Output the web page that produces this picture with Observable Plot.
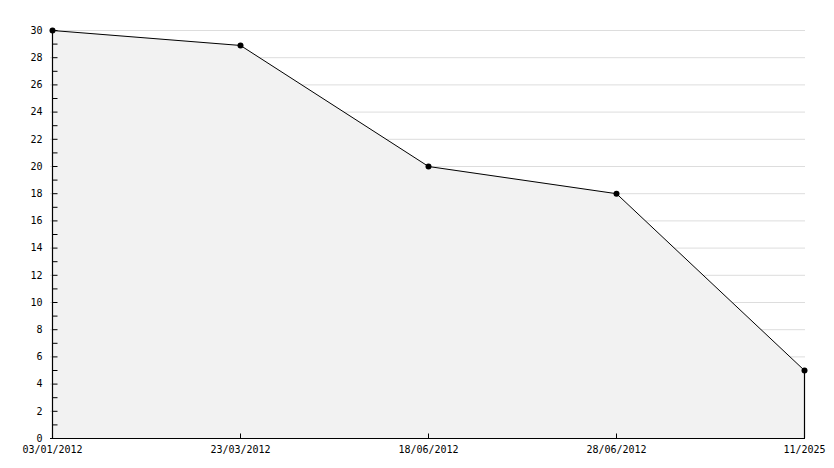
<!DOCTYPE html>
<html>
<head>
<meta charset="utf-8">
<script src="https://cdn.jsdelivr.net/npm/d3@7"></script>
<script src="https://cdn.jsdelivr.net/npm/@observablehq/plot@0.6"></script>
<style>
  html, body { margin: 0; padding: 0; background: #fff; }
  #chart svg { display: block; }
</style>
</head>
<body>
<div id="chart"></div>
<script>
const dates = ["03/01/2012", "23/03/2012", "18/06/2012", "28/06/2012", "11/2025"];
const values = [30, 28.9, 20, 18, 5];
const yMajorTicks = d3.range(0, 31, 2);
const yAllTicks = d3.range(0, 31, 1);

const data = dates.map((d, i) => ({date: d, value: values[i]}));
const first = dates[0];
const last = data[data.length - 1];

const tickRight = {draw(context) { context.moveTo(0, 0); context.lineTo(5, 0); }};
const tickUp = {draw(context) { context.moveTo(0, 0); context.lineTo(0, -5); }};

const chart = Plot.plot({
  width: 834,
  height: 468,
  marginLeft: 50,
  marginRight: 29,
  marginTop: 30,
  marginBottom: 30,
  style: {fontFamily: "DejaVu Sans Mono", fontSize: "10px", color: "#000", background: "#fff"},
  x: {type: "point", domain: dates, padding: 0, label: null},
  y: {domain: [0, 30], label: null},
  marks: [
    Plot.ruleY(yMajorTicks.filter(d => d > 0), {stroke: "#dddddd", strokeOpacity: 1}),
    Plot.areaY(data, {x: "date", y: "value", fill: "#f2f2f2"}),
    Plot.line(data, {x: "date", y: "value", stroke: "#000", strokeWidth: 1}),
    Plot.ruleX([last], {x: "date", y1: 0, y2: "value", stroke: "#000", strokeWidth: 1.2}),
    Plot.ruleX([first], {x: d => d, stroke: "#000", strokeWidth: 1.2}),
    Plot.ruleY([0], {stroke: "#000", strokeWidth: 1.2}),
    Plot.dot(yAllTicks, {y: d => d, x: () => first, symbol: tickRight, stroke: "#000", fill: "none", strokeWidth: 1}),
    Plot.dot(dates.slice(1, -1), {x: d => d, y: () => 0, symbol: tickUp, stroke: "#000", fill: "none", strokeWidth: 1}),
    Plot.dot(data, {x: "date", y: "value", r: 3, fill: "#000", stroke: "none"}),
    Plot.axisY({ticks: yMajorTicks, tickSize: 0, tickPadding: 8, label: null, fill: "#000"}),
    Plot.axisX({tickSize: 0, tickPadding: 7, label: null, fill: "#000"})
  ]
});
document.getElementById("chart").appendChild(chart);
</script>
</body>
</html>
